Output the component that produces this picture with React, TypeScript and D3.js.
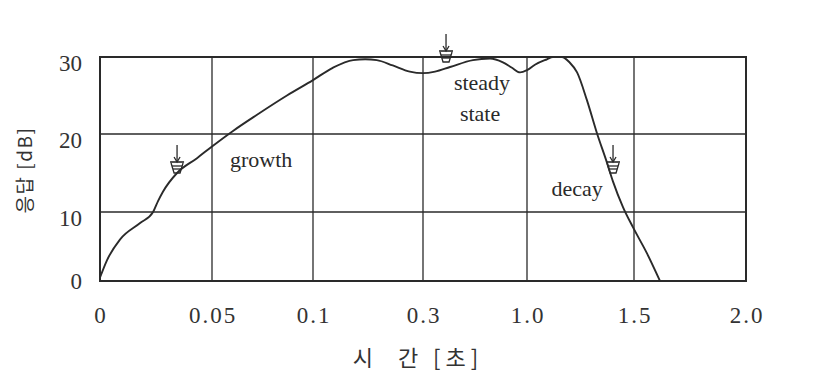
import React from 'react';
import * as d3 from 'd3';

// x axis: time ticks (not uniformly spaced in value, uniformly on paper)
const xTicks = [0, 0.05, 0.1, 0.3, 1.0, 1.5, 2.0];
const xTickLabels = ["0", "0.05", "0.1", "0.3", "1.0", "1.5", "2.0"];
const yTicks = [0, 10, 20, 30];

// response curve
const times = [0, 0.0031, 0.0089, 0.0179, 0.0237, 0.0259, 0.0281, 0.0344, 0.0433, 0.05,
    0.0604, 0.0723, 0.0871, 0.1, 0.136, 0.173, 0.195, 0.216, 0.245, 0.276, 0.3,
    0.381, 0.482, 0.636, 0.751, 0.838, 0.899, 0.953, 1.0, 1.037, 1.093, 1.121, 1.163,
    1.199, 1.234, 1.28, 1.327, 1.374, 1.402, 1.449, 1.495, 1.558, 1.616];
const levels = [0.5, 3.0, 6.0, 8.4, 10.0, 11.4, 12.6, 15.0, 16.9, 18.4,
    20.4, 22.5, 25.0, 27.0, 28.6, 29.6, 29.7, 29.6, 28.9, 28.1, 27.9,
    28.1, 28.7, 29.6, 29.8, 29.3, 28.6, 28.0, 28.3, 29.0, 29.7, 30.0, 30.0,
    29.3, 28.0, 24.4, 20.1, 16.3, 13.9, 10.6, 7.8, 4.0, 0];

// phase labels (centre / baseline) and arrow markers (tip)
const labelTexts = ["growth", "steady", "state", "decay"];
const labelTimes = [0.0743, 0.697, 0.684, 1.234];
const labelLevels = [15.8, 25.7, 21.7, 12.1];
const markerTimes = [0.0344, 0.455, 1.402];
const markerLevels = [15.0, 29.35, 15.0];

const W = 818, H = 386;
const ink = "#2a2a2a";
const serif = "'Liberation Serif', 'DejaVu Serif', serif";
const kr = "'Noto Sans CJK KR', sans-serif";

export default function App() {
    // scale ranges follow the printed grid of the scan
    const x = d3.scaleLinear().domain(xTicks).range([100, 212, 313, 423, 527, 634, 746]);
    const y = d3.scaleLinear().domain(yTicks).range([281, 212, 134, 57]);

    const pts = times.map((t, i) => [t, levels[i]] as [number, number]);
    const line = d3.line<[number, number]>()
        .x(d => x(d[0]))
        .y(d => y(d[1]))
        .curve(d3.curveMonotoneX);

    const x0 = x(0), x1 = x(2.0), y0 = y(0), y1 = y(30);

    const marker = (t: number, v: number, i: number) => {
        const mx = x(t), tip = y(v);
        const bar = tip - 11, top = bar - 17;
        return (
            <g key={i} stroke={ink} strokeWidth={1.3} fill="none">
                <line x1={mx} x2={mx} y1={top} y2={bar} />
                <path d={`M${mx - 3},${bar - 5}L${mx},${bar}L${mx + 3},${bar - 5}`} />
                <line x1={mx - 7} x2={mx + 7} y1={bar} y2={bar} strokeWidth={1.6} />
                <path d={`M${mx - 6},${bar + 1}L${mx - 3},${tip}L${mx + 3},${tip}L${mx + 6},${bar + 1}`} />
                <line x1={mx - 5} x2={mx + 5} y1={bar + 4} y2={bar + 4} />
                <line x1={mx - 4} x2={mx + 4} y1={bar + 7} y2={bar + 7} />
            </g>
        );
    };

    return (
        <svg width={W} height={H} style={{position: "absolute", left: 0, top: 0, background: "#fff"}}>
            <rect width={W} height={H} fill="#fff" />

            {/* grid */}
            <g stroke={ink} strokeWidth={1.3}>
                {xTicks.slice(1, -1).map(t => (
                    <line key={t} x1={x(t)} x2={x(t)} y1={y1} y2={y0} />
                ))}
                {yTicks.slice(1, -1).map(v => (
                    <line key={v} x1={x0} x2={x1} y1={y(v)} y2={y(v)} />
                ))}
            </g>
            <rect x={x0} y={y1} width={x1 - x0} height={y0 - y1} fill="none" stroke={ink} strokeWidth={2} />

            {/* curve */}
            <path d={line(pts) || ""} fill="none" stroke={ink} strokeWidth={1.9} strokeLinejoin="round" />

            {markerTimes.map((t, i) => marker(t, markerLevels[i], i))}

            <g fontFamily={serif} fontSize={22} fill={ink} textAnchor="middle">
                {labelTexts.map((s, i) => (
                    <text key={s} x={x(labelTimes[i])} y={y(labelLevels[i])}>{s}</text>
                ))}
            </g>

            {/* y ticks */}
            <g fontFamily={serif} fontSize={23} fill="#333" textAnchor="end">
                {yTicks.map(v => (
                    <text key={v} x={82} y={y(v) + (v === 0 ? 8 : 14)}>{v}</text>
                ))}
            </g>

            {/* x ticks */}
            <g fontFamily={serif} fontSize={23} fill="#333" textAnchor="middle" letterSpacing={2}>
                {xTicks.map((t, i) => (
                    <text key={t} x={x(t) + 1} y={323}>{xTickLabels[i]}</text>
                ))}
            </g>

            <text x={418} y={366} fontFamily={kr} fontSize={22} fill="#333" textAnchor="middle"
                  letterSpacing={5} style={{whiteSpace: "pre"}}>{"시  간 [초]"}</text>
            <text transform="translate(32,170) rotate(-90)" fontFamily={kr} fontSize={19} fill="#333"
                  textAnchor="middle" letterSpacing={1.5} style={{whiteSpace: "pre"}}>{"응답 [dB]"}</text>
        </svg>
    );
}
